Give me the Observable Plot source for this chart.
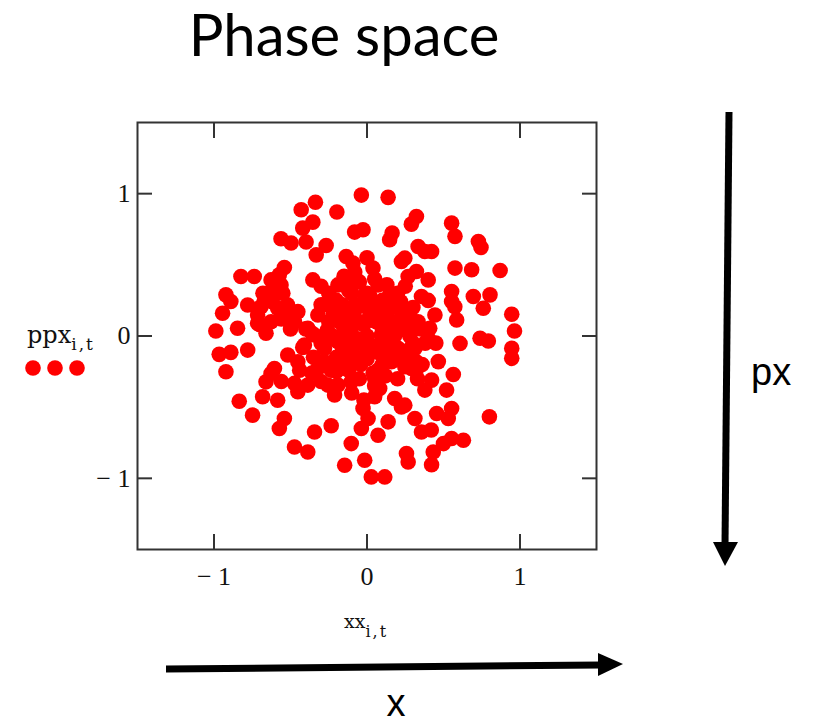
<!DOCTYPE html>
<html>
<head>
<meta charset="utf-8">
<script src="https://cdn.jsdelivr.net/npm/d3@7"></script>
<script src="https://cdn.jsdelivr.net/npm/@observablehq/plot@0.6"></script>
<style>
  html, body { margin: 0; padding: 0; background: #fff; }
  #wrap { position: relative; width: 816px; height: 724px; overflow: hidden; }
  #wrap > svg { position: absolute; left: 0; top: 0; }
</style>
</head>
<body>
<div id="wrap"></div>
<script>
// Particle positions xx[i,t] and momenta ppx[i,t] at one time step
const xx = [
  -0.037, 0.138, -0.337, -0.43, -0.197, 0.323, 0.29, 0.553, -0.354, -0.42,
  -0.026, -0.081, 0.164, 0.148, 0.575, 0.728, 0.745, -0.562, -0.496, -0.398,
  -0.267, -0.332, 0.334, 0.422, 0.378, 0.247, 0.225, -0.136, -0.092, 0.039,
  0.87, 0.575, 0.684, -0.54, -0.573, -0.824, -0.737, -0.354, 0.072, 0.269,
  0.323, 0.40, 0.356, 0.553, 0.695, 0.804, 0.76, 0.946, 0.964, 0.946,
  0.946, 0.553, 0.586, 0.608, 0.739, 0.793, 0.444, 0.41, 0.40, 0.313,
  -0.922, -0.89, -0.944, -0.988, -0.846, -0.966, -0.89, -0.78, -0.922, -0.835,
  -0.748, -0.584, -0.54, -0.573, -0.474, -0.387, -0.343, -0.234, -0.103, -0.146,
  -0.015, 0.028, 0.116, 0.258, 0.269, 0.422, 0.433, 0.63, 0.553, 0.50,
  0.80, 0.52, 0.564, 0.553, 0.531, 0.455, 0.378, 0.422, 0.466, 0.29,
  0.247, 0.313, 0.356, -0.026, 0.007, 0.138, 0.072, -0.037, 0.181, 0.083,
  0.05, -0.212, -0.256, -0.452, -0.387, -0.409, -0.452, -0.518, -0.627, -0.682,
  -0.66, -0.605, -0.321, -0.146, -0.103, -0.19, -0.278, -0.66, -0.627, -0.715,
  -0.78, -0.671, -0.627, -0.562, -0.584, -0.452, -0.474, -0.387, -0.343, -0.234,
  -0.234, -0.19, -0.146, -0.015, 0.028, 0.116, 0.203, 0.225, 0.16, 0.269,
  0.334, -0.015, -0.125, -0.103, -0.015, 0.072, -0.146, -0.059, 0.16, 0.203,
  -0.19, -0.321, -0.081, 0.094,
  -0.2, -0.1, 0.0, 0.1, 0.15, 0.25, 0.3, 0.2, 0.1, 0.0,
  -0.05, -0.15, -0.25, -0.3, -0.2, -0.1, 0.0, 0.1, 0.25, 0.3,
  0.35, 0.15, -0.05, -0.2, 0.05, 0.2, -0.3, -0.1, 0.05, 0.4,
  0.45, -0.35, -0.4, -0.06, 0.12, 0.22, -0.12, 0.04, 0.18, -0.24,
  0.32, -0.02, 0.09, -0.17, 0.26, 0.36, -0.28, 0.13,
  // dense core and bands
  -0.627, -0.584, -0.693, -0.518, -0.715, -0.474, -0.1, -0.234, -0.19, 0.574,
  0.2, 0.42, 0.225, 0.072, 0.247, 0.334, 0.181, 0.27, 0.38, 0.05,
  -0.25, -0.2, -0.12, -0.05, -0.15, -0.08, 0.0, 0.0, -0.6, -0.55,
  -0.52, -0.5, -0.56, -0.62, -0.68, -0.7, -0.22, -0.16, -0.08, 0.02,
  0.08, 0.16, 0.22, 0.28, -0.26, -0.18, -0.1, -0.02, 0.06, 0.14,
  0.2, 0.26, -0.22, -0.14, -0.06, 0.02, 0.1, 0.18, -0.16, -0.08,
  0.0, 0.08, 0.16, -0.2, -0.12, -0.04, 0.04, 0.12, -0.28, -0.44,
  -0.36, -0.56, -0.3, 0.33, 0.28, -0.02, 0.02, -0.36, -0.42, -0.3
];
const ppx = [
  0.99, 0.974, 0.94, 0.887, 0.871, 0.84, 0.786, 0.793, 0.80, 0.758,
  0.746, 0.73, 0.723, 0.676, 0.70, 0.664, 0.622, 0.683, 0.653, 0.66,
  0.636, 0.57, 0.629, 0.594, 0.594, 0.547, 0.523, 0.559, 0.512, 0.477,
  0.46, 0.477, 0.465, 0.481, 0.43, 0.418, 0.418, 0.394, 0.359, 0.418,
  0.453, 0.394, 0.277, 0.312, 0.277, 0.289, 0.195, 0.153, 0.035, -0.087,
  -0.157, 0.242, 0.113, -0.052, -0.016, -0.035, 0.148, 0.054, -0.016, -0.087,
  0.289, 0.242, 0.16, 0.035, 0.054, -0.129, -0.115, -0.099, -0.251, -0.458,
  -0.556, -0.451, -0.58, -0.65, -0.78, -0.815, -0.674, -0.631, -0.756, -0.908,
  -0.873, -0.99, -0.99, -0.826, -0.885, -0.904, -0.815, -0.732, -0.72, -0.756,
  -0.568, -0.38, -0.27, -0.509, -0.58, -0.545, -0.38, -0.31, -0.18, -0.228,
  -0.486, -0.58, -0.674, -0.509, -0.58, -0.603, -0.697, -0.65, -0.439, -0.369,
  -0.298, -0.415, -0.345, -0.392, -0.345, -0.063, -0.181, -0.134, -0.263, -0.427,
  -0.322, -0.228, -0.228, -0.228, -0.322, -0.345, -0.087, 0.019, 0.1, 0.148,
  0.218, 0.242, 0.312, 0.359, 0.195, 0.171, 0.1, 0.054, 0.007, 0.007,
  0.265, 0.359, 0.406, 0.289, 0.195, 0.148, 0.242, 0.171, 0.054, 0.03,
  0.1, 0.1, 0.148, 0.007, -0.04, -0.087, -0.134, -0.181, -0.181, -0.087,
  -0.04, 0.148, 0.218, 0.007,
  0.2, 0.3, 0.2, 0.25, 0.3, 0.35, 0.2, 0.1, 0.05, 0.0,
  0.1, 0.05, 0.1, -0.05, -0.15, -0.1, -0.12, -0.2, -0.15, -0.05,
  0.05, -0.05, -0.3, -0.25, -0.35, -0.3, 0.35, 0.4, 0.4, 0.25,
  -0.05, -0.15, 0.05, -0.05, -0.1, 0.05, -0.2, 0.12, -0.12, -0.02,
  -0.18, 0.24, -0.26, 0.16, 0.14, -0.2, 0.22, 0.36,
  // dense core and bands
  0.394, 0.30, 0.206, 0.136, 0.089, -0.333, -0.4, -0.24, -0.192, 0.206,
  0.3, -0.66, -0.498, -0.24, -0.216, -0.216, -0.12, -0.1, -0.05, -0.427,
  0.3, 0.25, 0.32, 0.38, 0.42, 0.45, 0.3, 0.55, 0.38, 0.3,
  0.22, 0.05, 0.12, 0.24, 0.3, 0.08, 0.16, 0.22, 0.18, 0.14,
  0.18, 0.2, 0.24, 0.14, 0.04, 0.1, 0.06, 0.08, 0.1, 0.12,
  0.04, 0.08, -0.02, -0.04, -0.02, -0.06, -0.04, 0.0, -0.1, -0.14,
  -0.16, -0.12, -0.1, -0.22, -0.24, -0.2, -0.26, -0.28, -0.18, -0.24,
  -0.26, -0.32, -0.32, -0.3, 0.0, -0.45, 0.28, 0.02, -0.08, 0.22
];

const xTicks = [-1, 0, 1];
const yTicks = [-1, 0, 1];
const tickLabel = d => d < 0 ? `\u2212 ${-d}` : `${d}`;

const points = xx.map((x, i) => ({x, px: ppx[i]}));

const chart = Plot.plot({
  width: 816,
  height: 724,
  marginLeft: 137,
  marginRight: 220,
  marginTop: 122,
  marginBottom: 175,
  x: {domain: [-1.5, 1.5]},
  y: {domain: [-1.5, 1.5]},
  style: {fontFamily: "'Liberation Serif', serif", fontSize: "26px", color: "#111", background: "transparent"},
  marks: [
    Plot.dot(points, {x: "x", y: "px", r: 7.8, fill: "#ff0000", stroke: "none"}),
    Plot.frame({stroke: "#333", strokeWidth: 2}),
    // inward tick marks on all four sides
    Plot.axisX(xTicks, {anchor: "bottom", tickSize: -15, strokeWidth: 2, stroke: "#333", tickFormat: () => "", label: null}),
    Plot.axisX(xTicks, {anchor: "top", tickSize: -15, strokeWidth: 2, stroke: "#333", tickFormat: () => "", label: null}),
    Plot.axisY(yTicks, {anchor: "left", tickSize: -15, strokeWidth: 2, stroke: "#333", tickFormat: () => "", label: null}),
    Plot.axisY(yTicks, {anchor: "right", tickSize: -15, strokeWidth: 2, stroke: "#333", tickFormat: () => "", label: null}),
    // tick labels
    Plot.axisX(xTicks, {anchor: "bottom", tickSize: 0, tickPadding: 17, fontSize: 26, tickFormat: tickLabel, label: null}),
    Plot.axisY(yTicks, {anchor: "left", tickSize: 0, tickPadding: 7, fontSize: 26, tickFormat: tickLabel, label: null})
  ]
});

const wrap = document.getElementById("wrap");
wrap.appendChild(chart);

// Title, variable names, legend swatch and direction arrows
const deco = d3.select(wrap).append("svg")
  .attr("width", 816).attr("height", 724);

deco.append("text")
  .attr("x", 344).attr("y", 56)
  .attr("text-anchor", "middle")
  .attr("font-family", "Lato, 'Open Sans', sans-serif")
  .attr("font-size", 58)
  .attr("fill", "#000")
  .text("Phase space");

const serif = "'DejaVu Serif', 'Liberation Serif', serif";
const yName = deco.append("text")
  .attr("x", 27).attr("y", 343)
  .attr("font-family", serif).attr("font-size", 24).attr("fill", "#111");
yName.append("tspan").text("ppx");
yName.append("tspan").attr("font-size", 17).attr("dy", 7).attr("letter-spacing", 2).text("i,t");

const xName = deco.append("text")
  .attr("x", 344).attr("y", 628)
  .attr("font-family", serif).attr("font-size", 19).attr("fill", "#111");
xName.append("tspan").text("xx");
xName.append("tspan").attr("font-size", 16).attr("dy", 9).attr("letter-spacing", 2).text("i,t");

deco.selectAll("circle.swatch")
  .data([33, 55, 77])
  .join("circle")
  .attr("class", "swatch")
  .attr("cx", d => d).attr("cy", 368).attr("r", 7.8)
  .attr("fill", "#ff0000");

// horizontal arrow (x direction)
deco.append("line")
  .attr("x1", 166).attr("y1", 669).attr("x2", 601).attr("y2", 665)
  .attr("stroke", "#000").attr("stroke-width", 7);
deco.append("polygon")
  .attr("points", "598,653 598,676 623,664")
  .attr("fill", "#000");
deco.append("text")
  .attr("x", 396).attr("y", 716)
  .attr("text-anchor", "middle")
  .attr("font-family", "'Liberation Sans', Arial, sans-serif")
  .attr("font-size", 38).attr("fill", "#000")
  .text("x");

// vertical arrow (px direction)
deco.append("line")
  .attr("x1", 729).attr("y1", 112).attr("x2", 725).attr("y2", 545)
  .attr("stroke", "#000").attr("stroke-width", 7);
deco.append("polygon")
  .attr("points", "713,542 738,542 725,566")
  .attr("fill", "#000");
deco.append("text")
  .attr("x", 751).attr("y", 385)
  .attr("font-family", "'Liberation Sans', Arial, sans-serif")
  .attr("font-size", 38).attr("fill", "#000")
  .text("px");
</script>
</body>
</html>
